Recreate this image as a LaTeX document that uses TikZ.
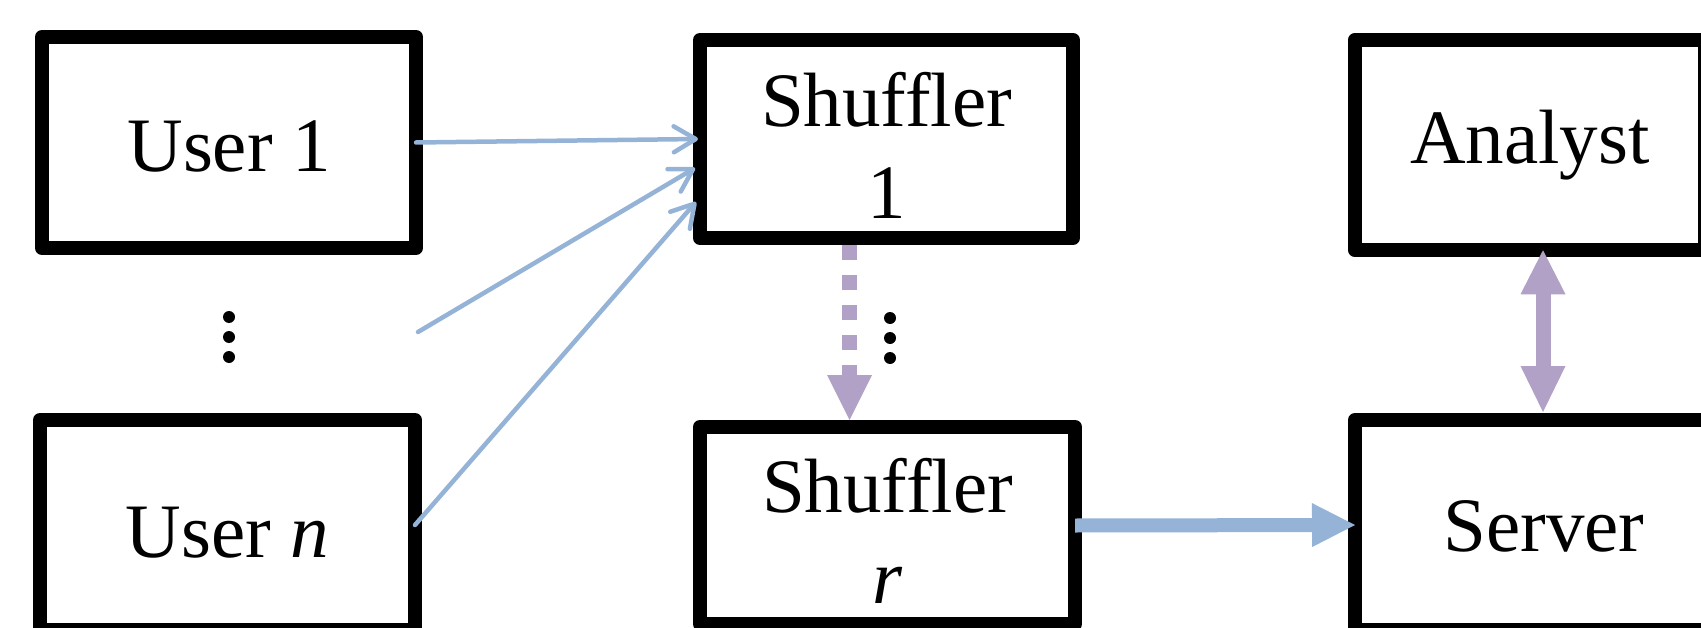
\documentclass[tikz,border=0pt]{standalone}
\usepackage{fontspec}
\setmainfont[Ligatures=NoCommon]{Liberation Serif}
\usetikzlibrary{arrows.meta,calc}
\definecolor{flowblue}{RGB}{149,179,215}
\definecolor{flowpurple}{RGB}{178,161,199}
% invisible strut that fixes how high the first text line sits in a box
\newcommand{\lift}[1]{\rule{0pt}{#1bp}}

\begin{document}
\begin{tikzpicture}[x=1bp,y=-1bp,
  box/.style={draw=black,line width=14bp,line join=round,outer sep=0pt,
    inner sep=0pt,align=center,font=\fontsize{77bp}{91bp}\selectfont},
  dot/.style={circle,fill=black,inner sep=0pt,minimum size=12bp},
  feed/.style={draw=flowblue,line width=4.5bp,line cap=round,
    -{Straight Barb[length=22bp,width=26bp,round]}},
  hop/.style={draw=flowpurple,line width=15bp,dash pattern=on 15bp off 15bp,
    -{Triangle[length=45bp,width=45bp,line width=0pt]}},
  pipe/.style={draw=flowblue,line width=14bp,
    -{Triangle[length=43bp,width=44bp,line width=0pt]}},
  link/.style={draw=flowpurple,line width=15bp,
    {Triangle[length=44bp,width=45bp,line width=0pt]}-{Triangle[length=46bp,width=45bp,line width=0pt]}}
]
\useasboundingbox (0,0) rectangle (1701,628);
\clip (0,0) rectangle (1701,628);

% users
\node[box,minimum width=374bp,minimum height=211bp] (u1) at (229,142.5) {\lift{59}User 1};
\node[box,minimum width=375bp,minimum height=210bp] (un) at (227.5,525) {\lift{66}User \textit{n}};
\node[dot] (ud1) at (229,317) {};
\node[dot] (ud2) at (229,337) {};
\node[dot] (ud3) at (229,357) {};

% shufflers
\node[box,minimum width=373bp,minimum height=198bp] (s1) at (886.5,139) {\lift{67}Shuffler\\1};
\node[box,minimum width=375bp,minimum height=197bp] (sr) at (887.5,525.5) {\lift{64}Shuffler\\\textit{r}};
\node[dot] (sd1) at (890,318) {};
\node[dot] (sd2) at (890,338) {};
\node[dot] (sd3) at (890,358) {};

% analyst and server
\node[box,minimum width=350bp,minimum height=210.5bp] (an) at (1530,145) {\lift{54}Analyst};
\node[box,minimum width=378bp,minimum height=210bp] (sv) at (1544,525) {\lift{54}Server};

% reports from the users
\coordinate (mid) at (418,332);
\draw[feed] (u1.east) -- ($(s1.west)+(-2,0)$);
\draw[feed] (mid) -- ($(s1.west)+(-5,29)$);
\draw[feed] (un.east) -- ($(s1.west)+(-4,63)$);

% chain of shufflers
\draw[hop] ($(s1.south)+(-37,7)$) -- ($(sr.north)+(-38,-7)$);

% shuffled data to the server
\draw[pipe] (sr.east) -- (sv.west);

% analyst and server exchange
\draw[link] ($(an.south)+(13,0)$) -- ($(sv.north)+(-1,-8)$);
\end{tikzpicture}
\end{document}
